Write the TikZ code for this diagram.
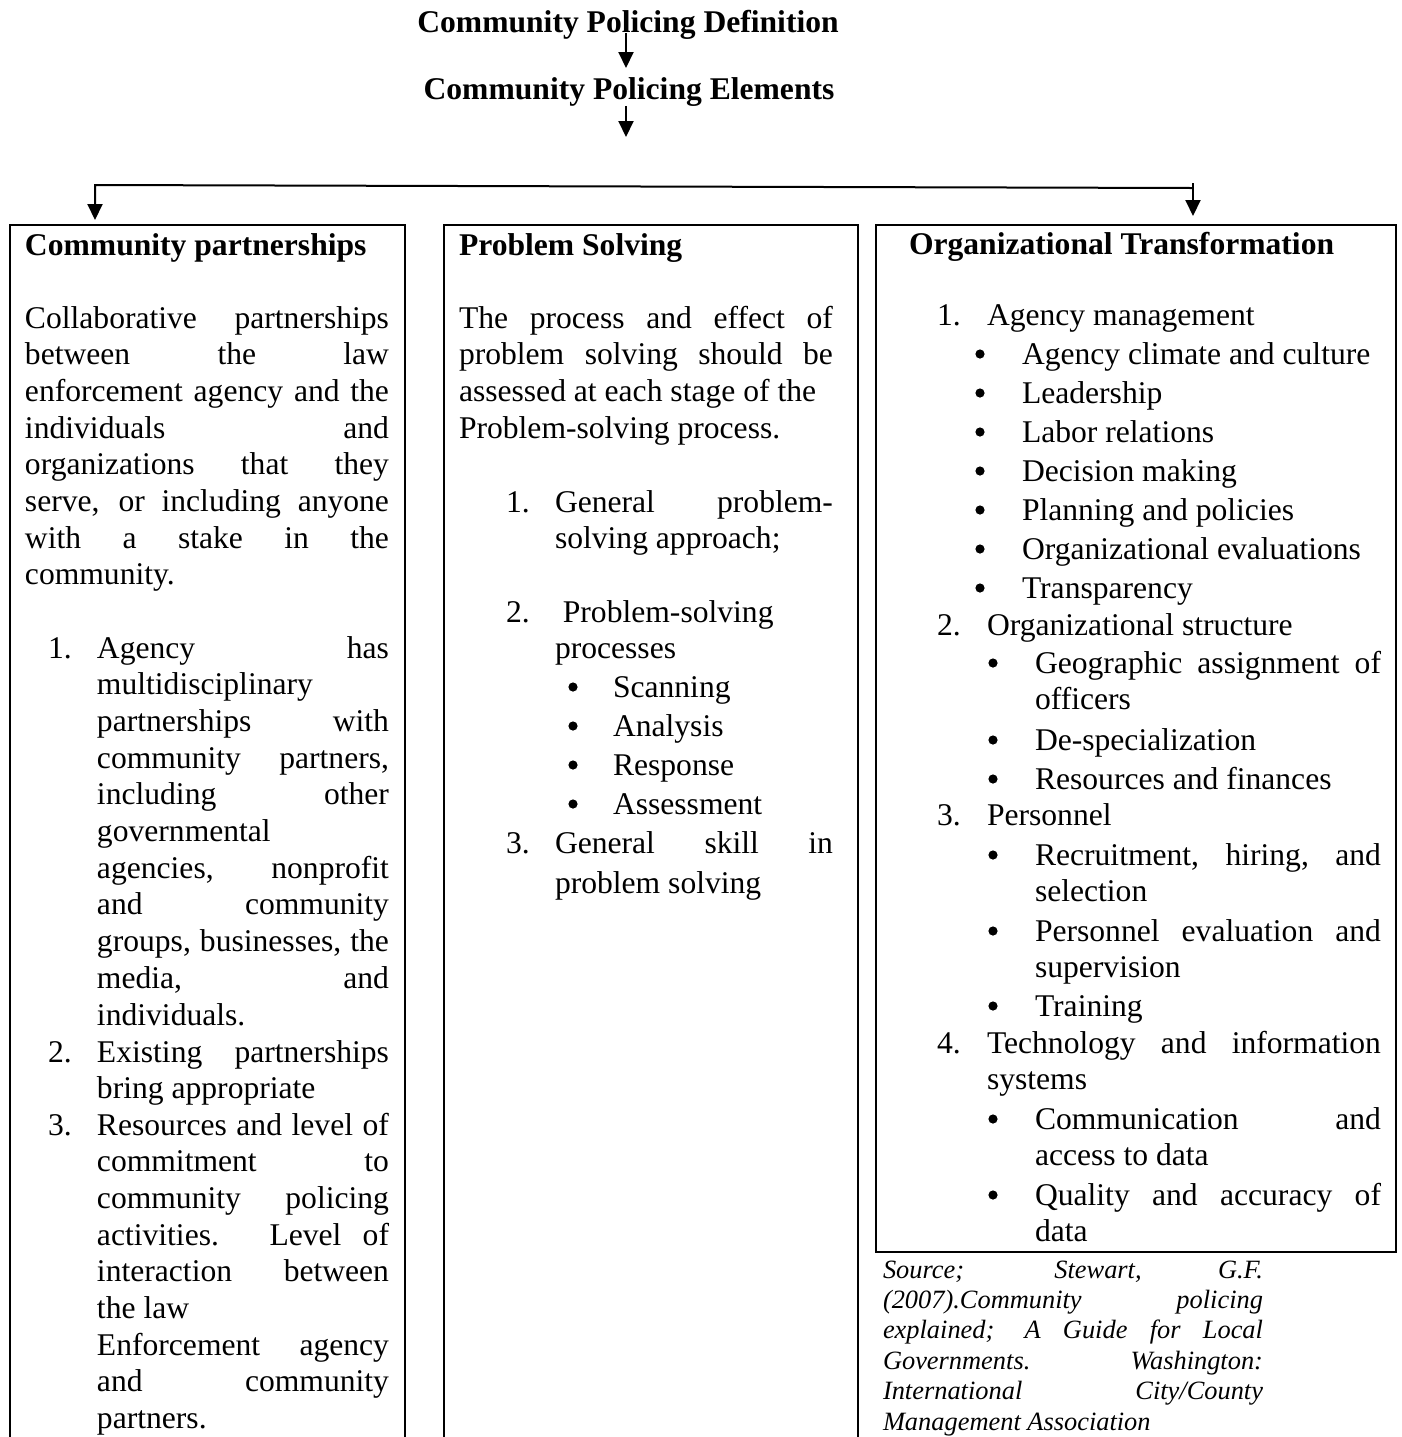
\documentclass[tikz,border=0pt]{standalone}
\usepackage{fontspec}
\setmainfont{Liberation Serif}
\usetikzlibrary{arrows.meta}
\tolerance=10000
\pretolerance=10000
\hyphenpenalty=10000
\hbadness=10000

\begin{document}
\begin{tikzpicture}[x=0.5pt,y=-0.5pt]

\tikzstyle{cptext}=[inner sep=0pt,outer sep=0pt,anchor=base west,font=\fontsize{15.8pt}{18.35pt}\selectfont]
\tikzstyle{cpjust}=[cptext,align=justify]
\tikzstyle{cphead}=[cptext,font=\fontsize{15.8pt}{18.35pt}\selectfont\bfseries]
\tikzstyle{cpsource}=[cpjust,font=\fontsize{13.2pt}{15.2pt}\selectfont\itshape]
\tikzstyle{cpbullet}=[circle,fill=black,inner sep=0pt,minimum size=4.6pt]
\tikzstyle{cpframe}=[line width=1.2pt]
\tikzstyle{cparrow}=[line width=1pt,-{Triangle[width=7.5pt,length=8pt]}]

\useasboundingbox (0,0) rectangle (1402,1437);

% headings
\node[cphead,anchor=base] (def) at (628,32) {Community Policing Definition};
\node[cphead,anchor=base] (elem) at (629,99) {Community Policing Elements};
\coordinate (deftip) at (626,68);
\coordinate (elemtip) at (626,137);
\draw[cparrow,shorten <=-3pt] (def.south -| deftip) -- (deftip);
\draw[cparrow] (elem.south -| elemtip) -- (elemtip);

% fork
\coordinate (forkl) at (95,185);
\coordinate (forkr) at (1193,188);
\coordinate (forkrtop) at (1193,183);
\coordinate (cptip) at (95,220);
\coordinate (ottip) at (1193,216);
\draw[cparrow] (forkr) -- (forkl) -- (cptip);
\draw[cparrow] (forkrtop) -- (ottip);

% frames
\draw[cpframe] (10,1450) -- (10,225) -- (405,225) -- (405,1450);
\draw[cpframe] (444,1450) -- (444,225) -- (858,225) -- (858,1450);
\draw[cpframe] (876,225) rectangle (1396,1252);

% community partnerships
\node[cphead] (cphd) at (25,255) {Community partnerships};
\node[cpjust,text width=182pt] (cpdef) at (25,328) {Collaborative partnerships\linebreak between the law\linebreak enforcement agency and the\linebreak individuals and\linebreak organizations that they\linebreak serve, or including anyone\linebreak with a stake in the\linebreak community.};
\node[cpjust,text width=146pt] (cp1) at (97,658) {Agency has\linebreak multidisciplinary\linebreak partnerships with\linebreak community partners,\linebreak including other\linebreak governmental\linebreak agencies, nonprofit\linebreak and community\linebreak groups, businesses, the\linebreak media, and\linebreak individuals.};
\node[cpjust,text width=146pt] (cp2) at (97,1062) {Existing partnerships\linebreak bring appropriate};
\node[cpjust,text width=146pt] (cp3) at (97,1135) {Resources and level of\linebreak commitment to\linebreak community policing\linebreak activities. Level of\linebreak interaction between\linebreak the law\\ Enforcement agency\linebreak and community\linebreak partners.};

% problem solving
\node[cphead] (pshd) at (459,255) {Problem Solving};
\node[cpjust,text width=187pt] (psdef) at (459,328) {The process and effect of\linebreak problem solving should be\linebreak assessed at each stage of the\\ Problem-solving process.};
\node[cpjust,text width=139pt] (ps1) at (555,512) {General problem-\linebreak solving approach;};
\node[cpjust,text width=139pt] (ps2) at (555,622) {\hspace*{0.25em}Problem-solving\\ processes};
\node[cptext] (ps2a) at (613,697) {Scanning};
\node[cptext] (ps2b) at (613,736) {Analysis};
\node[cptext] (ps2c) at (613,775) {Response};
\node[cptext] (ps2d) at (613,814) {Assessment};
\node[cpjust,text width=139pt,font=\fontsize{15.8pt}{20pt}\selectfont] (ps3) at (555,853) {General skill in\linebreak problem solving};

% organizational transformation
\node[cphead] (othd) at (909,254) {Organizational Transformation};
\node[cptext] (ot1) at (987,325) {Agency management};
\foreach \ty/\txt [count=\i] in {364/Agency climate and culture, 403/Leadership, 442/Labor relations, 481/Decision making, 520/Planning and policies, 559/Organizational evaluations, 598/Transparency}
  \node[cptext] (ot1\i) at (1022,\ty) {\txt};
\node[cptext] (ot2) at (987,635) {Organizational structure};
\node[cpjust,text width=173pt] (ot2a) at (1035,673) {Geographic assignment of\linebreak officers};
\node[cptext] (ot2b) at (1035,750) {De-specialization};
\node[cptext] (ot2c) at (1035,789) {Resources and finances};
\node[cptext] (ot3) at (987,825) {Personnel};
\node[cpjust,text width=173pt] (ot3a) at (1035,865) {Recruitment, hiring, and\linebreak selection};
\node[cpjust,text width=173pt] (ot3b) at (1035,941) {Personnel evaluation and\linebreak supervision};
\node[cptext] (ot3c) at (1035,1016) {Training};
\node[cpjust,text width=197pt] (ot4) at (987,1053) {Technology and information\linebreak systems};
\node[cpjust,text width=173pt] (ot4a) at (1035,1129) {Communication and\linebreak access to data};
\node[cpjust,text width=173pt] (ot4b) at (1035,1205) {Quality and accuracy of\linebreak data};

% list numbers and bullets
\foreach \nx/\ny/\nlab [count=\i] in {48/658/1., 48/1062/2., 48/1135/3., 506/512/1., 506/622/2., 506/853/3., 937/325/1., 937/635/2., 937/825/3., 937/1053/4.}
  \node[cptext] (num\i) at (\nx,\ny) {\nlab};
\foreach \bx/\by [count=\i] in {573/697, 573/736, 573/775, 573/814, 980/364, 980/403, 980/442, 980/481, 980/520, 980/559, 980/598, 993/673, 993/750, 993/789, 993/865, 993/941, 993/1016, 993/1129, 993/1205}
  \node[cpbullet] (dot\i) at (\bx,\by-10) {};

% source
\node[cpsource,text width=190pt] (src) at (883,1278) {Source; Stewart, G.F.\linebreak (2007).Community policing\linebreak explained; A Guide for Local\linebreak Governments. Washington:\linebreak International City/County\linebreak Management Association};

\end{tikzpicture}
\end{document}
